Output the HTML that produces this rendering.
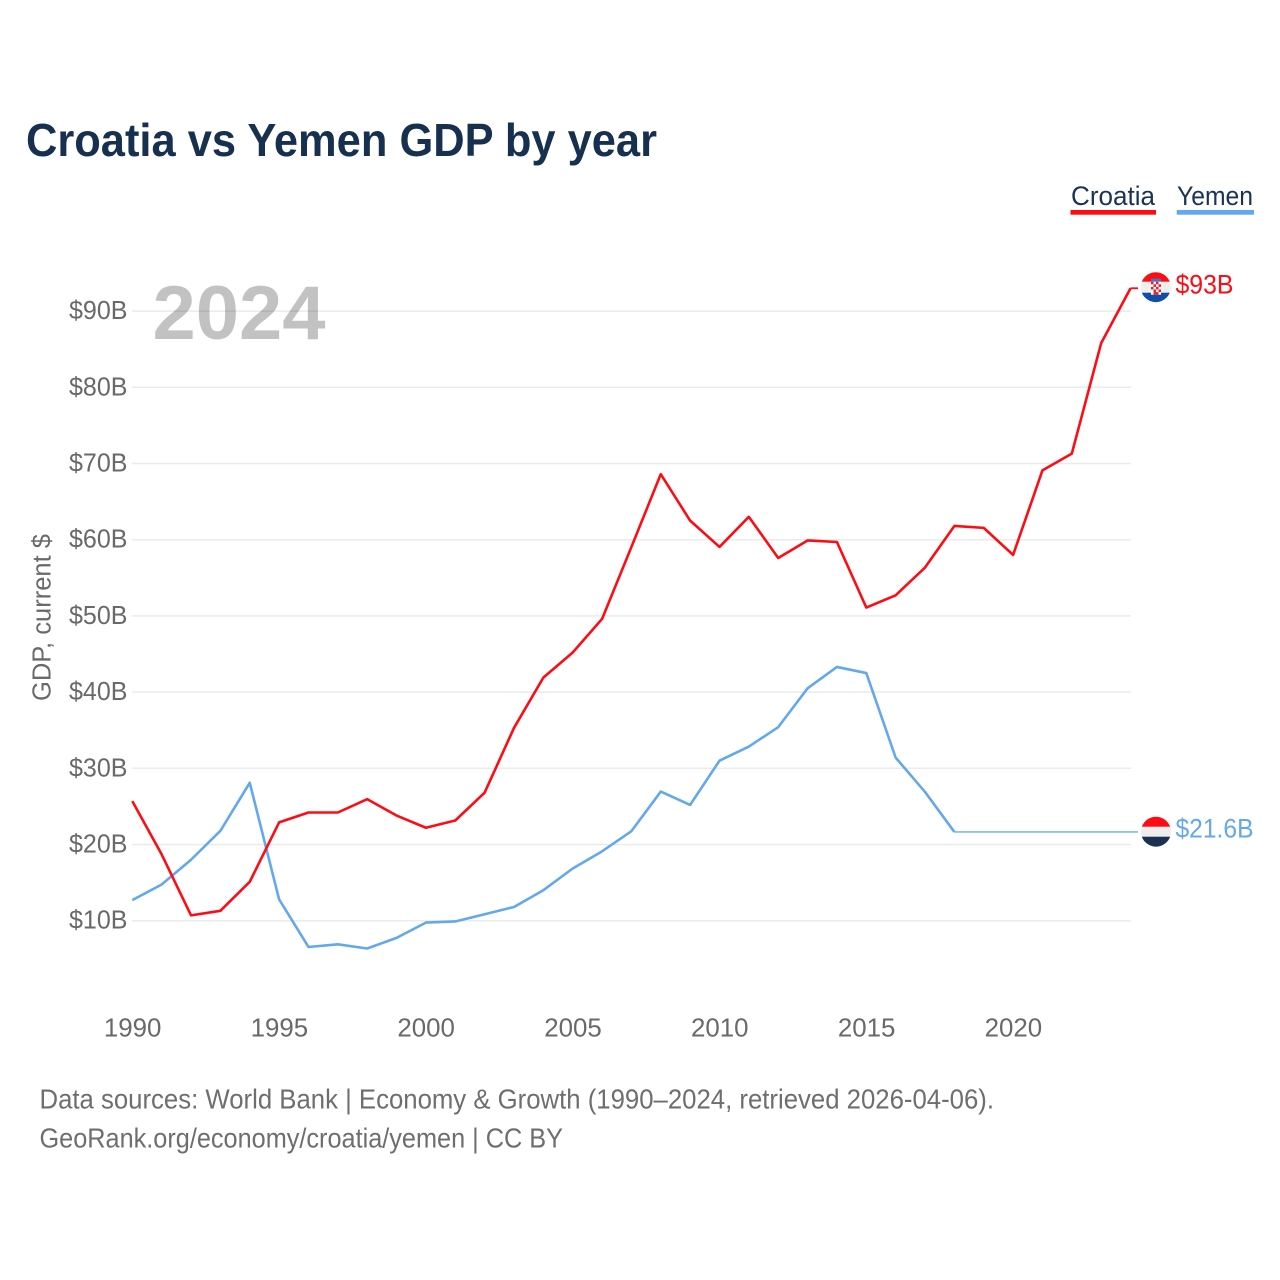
<!DOCTYPE html>
<html lang="en">
<head>
<meta charset="utf-8">
<title>Croatia vs Yemen GDP by year</title>
<style>
  html, body { margin: 0; padding: 0; background: #fff; }
  svg { display: block; font-family: "Liberation Sans", sans-serif; }
</style>
</head>
<body>
<svg id="chart" xmlns="http://www.w3.org/2000/svg" width="1280" height="1280" viewBox="0 0 1280 1280">
  <rect width="1280" height="1280" fill="#ffffff"/>
  <text x="26" y="156" font-size="46" font-weight="700" fill="#17304f" textLength="631" lengthAdjust="spacingAndGlyphs">Croatia vs Yemen GDP by year</text>

  <g>
    <text x="1071" y="205" font-size="26.5" fill="#1b3352" textLength="84" lengthAdjust="spacingAndGlyphs">Croatia</text>
    <rect x="1070.5" y="210" width="85.5" height="4.7" fill="#ff0b14"/>
  </g>
  <g>
    <text x="1177" y="205" font-size="26.5" fill="#1b3352" textLength="76" lengthAdjust="spacingAndGlyphs">Yemen</text>
    <rect x="1176.7" y="210" width="77.3" height="4.7" fill="#64a8ec"/>
  </g>

  <g id="grid"></g>
  <g id="y-axis"></g>
  <g id="x-axis"></g>

  <text transform="translate(50.5,701) rotate(-90)" font-size="25.5" fill="#696969" textLength="167" lengthAdjust="spacingAndGlyphs">GDP, current $</text>

  <g id="series"></g>

  <text x="152.5" y="339" font-size="76" font-weight="700" fill="#000000" fill-opacity="0.24" textLength="173" lengthAdjust="spacingAndGlyphs">2024</text>

  <defs>
    <clipPath id="clip-flag-hr"><circle cx="1155.8" cy="287.2" r="15"/></clipPath>
    <clipPath id="clip-flag-ye"><circle cx="1156" cy="831.7" r="15"/></clipPath>
  </defs>

  <g clip-path="url(#clip-flag-hr)">
    <rect x="1140" y="271" width="32" height="11" fill="#ff0b14"/>
    <rect x="1140" y="281.7" width="32" height="11" fill="#efefef"/>
    <rect x="1140" y="292.7" width="32" height="11" fill="#0f4fa8"/>
    <rect x="1151" y="278.6" width="10" height="3.2" fill="#3f78c4"/>
    <rect x="1151" y="281.7" width="10" height="13" fill="#ffffff"/>
    <rect x="1151" y="281.7" width="2.5" height="2.6" fill="#e8202a"/>
    <rect x="1156" y="281.7" width="2.5" height="2.6" fill="#e8202a"/>
    <rect x="1153.5" y="284.3" width="2.5" height="2.6" fill="#e8202a"/>
    <rect x="1158.5" y="284.3" width="2.5" height="2.6" fill="#e8202a"/>
    <rect x="1151" y="286.9" width="2.5" height="2.6" fill="#e8202a"/>
    <rect x="1156" y="286.9" width="2.5" height="2.6" fill="#e8202a"/>
    <rect x="1153.5" y="289.5" width="2.5" height="2.6" fill="#e8202a"/>
    <rect x="1158.5" y="289.5" width="2.5" height="2.6" fill="#e8202a"/>
    <rect x="1153.5" y="292.1" width="5" height="2.6" fill="#e8202a"/>
  </g>
  <g clip-path="url(#clip-flag-ye)">
    <rect x="1140" y="816" width="32" height="11" fill="#ff0b14"/>
    <rect x="1140" y="826.7" width="32" height="10.3" fill="#eeeeee"/>
    <rect x="1140" y="836.7" width="32" height="11" fill="#1a3152"/>
  </g>

  <g id="end-labels"></g>

  <text x="39.5" y="1108.5" font-size="27.5" fill="#6e6e6e" textLength="954.5" lengthAdjust="spacingAndGlyphs">Data sources: World Bank | Economy &amp; Growth (1990–2024, retrieved 2026-04-06).</text>
  <text x="39.5" y="1147.5" font-size="27.5" fill="#6e6e6e" textLength="523.5" lengthAdjust="spacingAndGlyphs">GeoRank.org/economy/croatia/yemen | CC BY</text>
</svg>

<script>
const years = [1990,1991,1992,1993,1994,1995,1996,1997,1998,1999,2000,2001,2002,2003,2004,2005,2006,2007,2008,2009,2010,2011,2012,2013,2014,2015,2016,2017,2018,2019,2020,2021,2022,2023,2024];
const croatiaGdp = [25.7,18.7,10.7,11.3,15.1,22.9,24.2,24.2,25.95,23.8,22.2,23.15,26.8,35.3,41.9,45.2,49.6,59.05,68.6,62.5,59.05,63.0,57.6,59.9,59.7,51.1,52.7,56.35,61.8,61.55,58.0,69.1,71.3,85.8,93.0];
const yemenGdp = [12.7,14.75,18.0,21.8,28.1,12.8,6.55,6.9,6.35,7.75,9.75,9.9,10.85,11.8,14.0,16.85,19.1,21.75,26.95,25.2,31.0,32.85,35.4,40.5,43.3,42.5,31.4,26.9,21.65];
const yTicks = [10,20,30,40,50,60,70,80,90];
const yTickLabels = ["$10B","$20B","$30B","$40B","$50B","$60B","$70B","$80B","$90B"];
const xTicks = [1990,1995,2000,2005,2010,2015,2020];
const croatiaEndLabel = "$93B";
const yemenEndLabel = "$21.6B";

const SVG_NS = "http://www.w3.org/2000/svg";
const xScale = function (year) { return 132.3 + (year - 1990) * 29.36; };
const yScale = function (value) { return 996.9 - value * 7.62; };
const lastYear = years[years.length - 1];

function make(tag, parent) {
  const el = document.createElementNS(SVG_NS, tag);
  parent.appendChild(el);
  return el;
}
function linePath(values) {
  return values.map(function (v, i) {
    return (i ? "L" : "M") + xScale(years[i]).toFixed(2) + " " + yScale(v).toFixed(2);
  }).join(" ");
}

const gridGroup = document.getElementById("grid");
const yAxisGroup = document.getElementById("y-axis");
yTicks.forEach(function (tick, i) {
  const line = make("line", gridGroup);
  
  
  line.setAttribute("x1", 131.7);
  line.setAttribute("x2", 1131);
  line.setAttribute("y1", yScale(tick));
  line.setAttribute("y2", yScale(tick));
  line.setAttribute("stroke", "#ebebeb");
  line.setAttribute("stroke-width", "1.5");

  const label = make("text", yAxisGroup);
  
  
  label.setAttribute("x", 127.5);
  label.setAttribute("y", yScale(tick) + 8);
  label.setAttribute("text-anchor", "end");
  label.setAttribute("font-size", "25.5");
  label.setAttribute("fill", "#696969");
  label.setAttribute("textLength", "58.5");
  label.setAttribute("lengthAdjust", "spacingAndGlyphs");
  label.textContent = yTickLabels[i];
});

const xAxisGroup = document.getElementById("x-axis");
xTicks.forEach(function (tick) {
  const label = make("text", xAxisGroup);
  
  
  label.setAttribute("x", xScale(tick) + 0.3);
  label.setAttribute("y", 1036.5);
  label.setAttribute("text-anchor", "middle");
  label.setAttribute("font-size", "25.5");
  label.setAttribute("fill", "#696969");
  label.setAttribute("textLength", "57.5");
  label.setAttribute("lengthAdjust", "spacingAndGlyphs");
  label.textContent = String(tick);
});

const seriesGroup = document.getElementById("series");

const yemenLast = yemenGdp[yemenGdp.length - 1];
const yemenTail = make("path", seriesGroup);


yemenTail.setAttribute("d", "M" + xScale(years[yemenGdp.length - 1]) + " " + yScale(yemenLast) + " L1138 " + yScale(yemenLast));
yemenTail.setAttribute("fill", "none");
yemenTail.setAttribute("stroke", "#93c2f1");
yemenTail.setAttribute("stroke-width", "1.8");

const yemenLine = make("path", seriesGroup);


yemenLine.setAttribute("d", linePath(yemenGdp));
yemenLine.setAttribute("fill", "none");
yemenLine.setAttribute("stroke", "#64a8ec");
yemenLine.setAttribute("stroke-width", "2.6");
yemenLine.setAttribute("stroke-linejoin", "round");

const croatiaLast = croatiaGdp[croatiaGdp.length - 1];
const croatiaTail = make("path", seriesGroup);


croatiaTail.setAttribute("d", "M" + xScale(lastYear) + " " + yScale(croatiaLast) + " L1138 " + yScale(croatiaLast));
croatiaTail.setAttribute("fill", "none");
croatiaTail.setAttribute("stroke", "#ff0b14");
croatiaTail.setAttribute("stroke-width", "1.8");

const croatiaLine = make("path", seriesGroup);


croatiaLine.setAttribute("d", linePath(croatiaGdp));
croatiaLine.setAttribute("fill", "none");
croatiaLine.setAttribute("stroke", "#ff0b14");
croatiaLine.setAttribute("stroke-width", "2.6");
croatiaLine.setAttribute("stroke-linejoin", "round");

const endGroup = document.getElementById("end-labels");

const croatiaValue = make("text", endGroup);


croatiaValue.setAttribute("x", 1175.5);
croatiaValue.setAttribute("y", 293.5);
croatiaValue.setAttribute("font-size", "26.5");
croatiaValue.setAttribute("fill", "#ff0b14");
croatiaValue.setAttribute("textLength", "58");
croatiaValue.setAttribute("lengthAdjust", "spacingAndGlyphs");
croatiaValue.textContent = croatiaEndLabel;

const yemenValue = make("text", endGroup);


yemenValue.setAttribute("x", 1175.5);
yemenValue.setAttribute("y", 837.5);
yemenValue.setAttribute("font-size", "26.5");
yemenValue.setAttribute("fill", "#64a8ec");
yemenValue.setAttribute("textLength", "78");
yemenValue.setAttribute("lengthAdjust", "spacingAndGlyphs");
yemenValue.textContent = yemenEndLabel;
</script>
</body>
</html>
